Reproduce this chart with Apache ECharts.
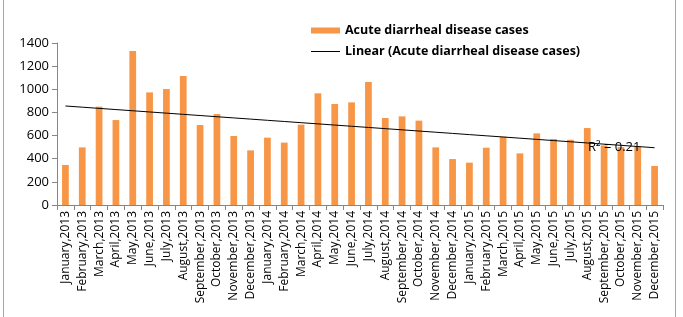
<!DOCTYPE html>
<html>
<head>
<meta charset="utf-8">
<script src="https://cdn.jsdelivr.net/npm/echarts@6/dist/echarts.min.js"></script>
<style>
html, body { margin: 0; padding: 0; background: #fff; }
#chart { width: 683px; height: 317px; }
</style>
</head>
<body>
<div id="chart"></div>
<script>
var months = ['January','February','March','April','May','June','July','August','September','October','November','December'];
var years = ['2013', '2014', '2015'];
var categories = [];
years.forEach(function (y) {
    months.forEach(function (m) { categories.push(m + ',' + y); });
});
var cases = [346, 498, 850, 734, 1331, 973, 1002, 1115, 691, 786, 596, 472,
             582, 539, 694, 965, 873, 887, 1063, 752, 766, 729, 498, 397,
             366, 495, 590, 446, 619, 570, 564, 665, 515, 500, 505, 337];
var yTicks = [0, 200, 400, 600, 800, 1000, 1200, 1400];
var seriesName = 'Acute diarrheal disease cases';
var trendName = 'Linear (Acute diarrheal disease cases)';

// least squares trend, like the spreadsheet's linear trendline
var n = cases.length, sx = 0, sy = 0, sxy = 0, sxx = 0;
for (var i = 0; i < n; i++) {
    var x = i + 1;
    sx += x; sy += cases[i]; sxy += x * cases[i]; sxx += x * x;
}
var slope = (n * sxy - sx * sy) / (n * sxx - sx * sx);
var icpt = (sy - slope * sx) / n;
var trend = cases.map(function (v, i) { return +(icpt + slope * (i + 1)).toFixed(1); });

var chart = echarts.init(document.getElementById('chart'));
var legendText = { fontSize: 12.5, fontWeight: 'bold', color: '#000', fontFamily: 'Open Sans' };
var option = {
    animation: false,
    textStyle: { fontFamily: 'Open Sans' },
    grid: { left: 57, right: 20, top: 43, bottom: 112 },
    legend: [
        {
            left: 306, top: 19,
            itemWidth: 29, itemHeight: 6, itemGap: 0,
            icon: 'rect',
            textStyle: legendText,
            data: [seriesName]
        },
        {
            left: 306, top: 40,
            itemWidth: 29, itemHeight: 1,
            icon: 'rect',
            itemStyle: { color: '#000' },
            textStyle: legendText,
            data: [trendName]
        }
    ],
    xAxis: {
        type: 'category',
        data: categories,
        axisLine: { lineStyle: { color: '#868686' } },
        axisTick: { show: true, lineStyle: { color: '#868686' } },
        axisLabel: { rotate: 90, interval: 0, fontSize: 12, color: '#000', margin: 6 }
    },
    yAxis: {
        type: 'value',
        min: yTicks[0],
        max: yTicks[yTicks.length - 1],
        interval: 200,
        axisLine: { show: true, lineStyle: { color: '#868686' } },
        axisTick: { show: true, lineStyle: { color: '#868686' } },
        splitLine: { show: false },
        axisLabel: { fontSize: 13, color: '#000', margin: 8, formatter: function (v) { return String(v); } }
    },
    series: [
        {
            name: seriesName,
            type: 'bar',
            data: cases,
            barWidth: '40%',
            itemStyle: { color: '#f79646' }
        },
        {
            name: trendName,
            type: 'line',
            data: trend,
            symbol: 'none',
            lineStyle: { color: '#000', width: 1 },
            itemStyle: { color: '#000' },
            z: 3
        }
    ],
    graphic: [
        {
            type: 'line',
            shape: { x1: 3.5, y1: 0, x2: 3.5, y2: 317 },
            style: { stroke: '#a6a6a6', lineWidth: 1 },
            silent: true
        },
        {
            type: 'line',
            shape: { x1: 675.5, y1: 0, x2: 675.5, y2: 317 },
            style: { stroke: '#a6a6a6', lineWidth: 1 },
            silent: true
        },
        {
            type: 'text',
            left: 588,
            top: 141,
            style: { text: 'R² = 0.21', font: '13px "Open Sans"', fill: '#000' },
            z: 10
        }
    ]
};
chart.setOption(option);
</script>
</body>
</html>
